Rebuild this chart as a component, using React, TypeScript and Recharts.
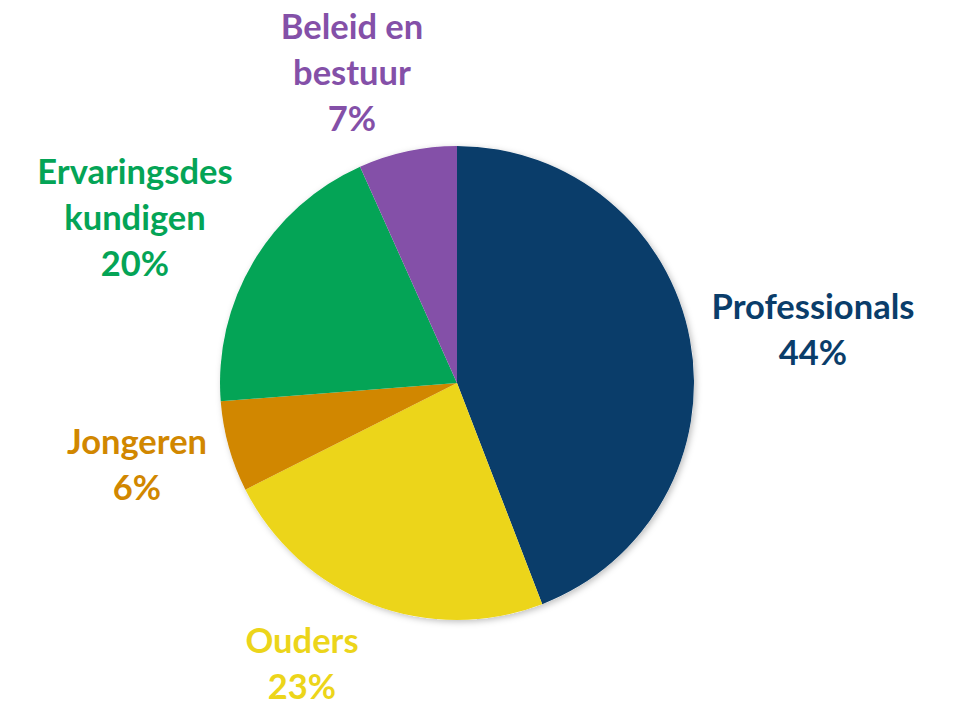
import React from 'react';
import { PieChart, Pie, Cell } from 'recharts';

const categories = ['Professionals', 'Ouders', 'Jongeren', 'Ervaringsdeskundigen', 'Beleid en bestuur'];
const values = [44.1, 23.4, 6.2, 19.5, 6.7];
const labelLines = [['Professionals'], ['Ouders'], ['Jongeren'], ['Ervaringsdes', 'kundigen'], ['Beleid en', 'bestuur']];
const colors = ['#0A3D6A', '#ECD51A', '#D18700', '#04A456', '#8450A8'];

// layout: label block centre offsets from pie centre (px)
const LABEL_OFFSETS = [
  [356, -55],
  [-155, 279],
  [-320, 80],
  [-322, -167],
  [-105, -312],
];
const LINE_H = 46;

const data = categories.map((name, i) => ({ name, value: values[i] }));
const total = values.reduce((a, b) => a + b, 0);
const bgData = [{ name: 'bg', value: total }];

const renderLabel = (props: any) => {
  const { cx, cy, index } = props;
  const lines = [...labelLines[index], `${Math.round(values[index])}%`];
  const [dx, dy] = LABEL_OFFSETS[index];
  const n = lines.length;
  return (
    <text
      key={`lbl-${index}`}
      x={cx + dx}
      textAnchor="middle"
      fill={colors[index]}
      style={{ fontFamily: 'Lato, sans-serif', fontWeight: 700, fontSize: 34.5 }}
    >
      {lines.map((l, j) => (
        <tspan key={j} x={cx + dx} y={cy + dy + (j - (n - 1) / 2) * LINE_H} dominantBaseline="central">
          {l}
        </tspan>
      ))}
    </text>
  );
};

export default function App() {
  return (
    <div style={{ position: 'absolute', left: 0, top: 0, width: 961, height: 702, background: '#fff' }}>
      <PieChart width={961} height={702} margin={{ top: 0, right: 0, bottom: 0, left: 0 }}>
        <defs>
          <filter id="pieShadow" x="-20%" y="-20%" width="140%" height="140%">
            <feDropShadow dx="2" dy="2" stdDeviation="3" floodColor="#000" floodOpacity="0.25" />
          </filter>
        </defs>
        <Pie
          data={bgData}
          dataKey="value"
          cx={457}
          cy={383}
          outerRadius={237}
          startAngle={90}
          endAngle={-270}
          stroke="none"
          isAnimationActive={false}
          label={false}
          labelLine={false}
        >
          <Cell fill="#fff" filter="url(#pieShadow)" />
        </Pie>
        <Pie
          data={data}
          dataKey="value"
          nameKey="name"
          cx={457}
          cy={383}
          outerRadius={237}
          startAngle={90}
          endAngle={-270}
          stroke="none"
          isAnimationActive={false}
          labelLine={false}
          label={renderLabel}
        >
          {data.map((d, i) => (
            <Cell key={d.name} fill={colors[i]} />
          ))}
        </Pie>
      </PieChart>
    </div>
  );
}
